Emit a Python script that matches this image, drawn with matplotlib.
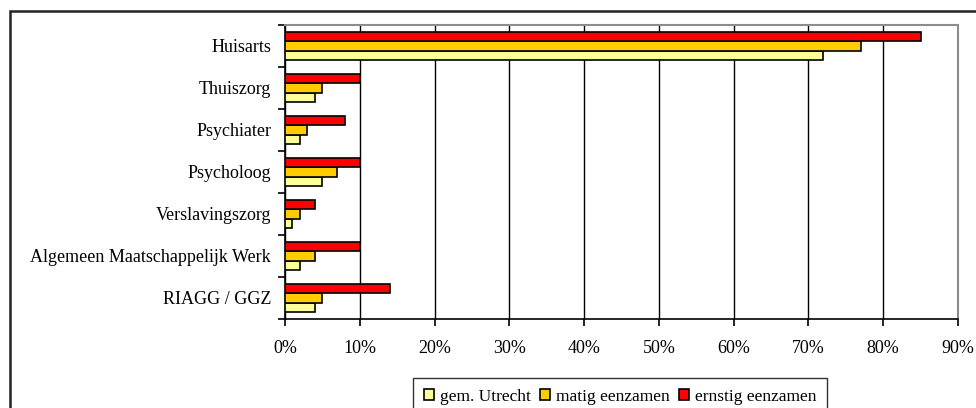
import matplotlib.pyplot as plt
from matplotlib.patches import Rectangle
from matplotlib.ticker import FixedLocator, PercentFormatter
import numpy as np

plt.rcParams['font.family'] = ['Liberation Serif', 'DejaVu Serif']

# Hulpverleners, van boven naar beneden
categories = ['Huisarts', 'Thuiszorg', 'Psychiater', 'Psycholoog',
              'Verslavingszorg', 'Algemeen Maatschappelijk Werk', 'RIAGG / GGZ']

series_names = ['gem. Utrecht', 'matig eenzamen', 'ernstig eenzamen']
gem_utrecht = [72, 4, 2, 5, 1, 2, 4]
matig = [77, 5, 3, 7, 2, 4, 5]
ernstig = [85, 10, 8, 10, 4, 10, 14]

colors = ['#FFFF99', '#FFCC00', '#FF0000']
xticks = list(range(0, 100, 10))

fig = plt.figure(figsize=(9.76, 4.08), dpi=100)
ax = fig.add_axes([285 / 976, 1 - 319 / 408, (958 - 285) / 976, (319 - 25) / 408])

n = len(categories)
ypos = np.arange(n)[::-1]
h = 0.225
for k, (vals, col, name) in enumerate(zip([gem_utrecht, matig, ernstig], colors, series_names)):
    ax.barh(ypos + (k - 1) * h, vals, height=h, color=col, edgecolor='black',
            linewidth=1.2, label=name, zorder=3)

ax.set_xlim(0, 90)
ax.set_ylim(-0.5, n - 0.5)
ax.xaxis.set_major_locator(FixedLocator(xticks))
ax.xaxis.set_major_formatter(PercentFormatter(decimals=0))
ax.grid(axis='x', color='black', linewidth=1.0, zorder=0)

# categorie-labels tussen de maatstreepjes
ax.set_yticks(ypos)
ax.set_yticklabels(categories)
ax.yaxis.set_minor_locator(FixedLocator(np.arange(-0.5, n, 1.0)))
ax.tick_params(axis='y', which='major', length=0, pad=10, labelsize=13)
ax.tick_params(axis='y', which='minor', length=5, width=1.2, direction='out')
ax.tick_params(axis='x', length=5, width=1.2, direction='out', pad=10, labelsize=13)

for side in ['top', 'right']:
    ax.spines[side].set_color('#8c8c8c')
    ax.spines[side].set_linewidth(1.5)
for side in ['left', 'bottom']:
    ax.spines[side].set_color('black')
    ax.spines[side].set_linewidth(1.2)

handles, labels = ax.get_legend_handles_labels()
leg = fig.legend(handles, labels, loc='upper left', bbox_to_anchor=(413 / 976, 1 - 377.5 / 408),
                 ncol=3, fontsize=12.5, frameon=True, fancybox=False, edgecolor='black',
                 handlelength=0.58, handleheight=0.58, handletextpad=0.35, columnspacing=0.5,
                 borderpad=0.65, borderaxespad=0)
leg.get_frame().set_linewidth(1.0)

# buitenkader van de grafiek
fig.patches.append(Rectangle((10 / 976, -0.1), 1.1, 1 - 11 / 408 + 0.1, transform=fig.transFigure,
                             fill=False, edgecolor='#222222', linewidth=1.8, zorder=10))

fig.savefig('out.png', dpi=100)
